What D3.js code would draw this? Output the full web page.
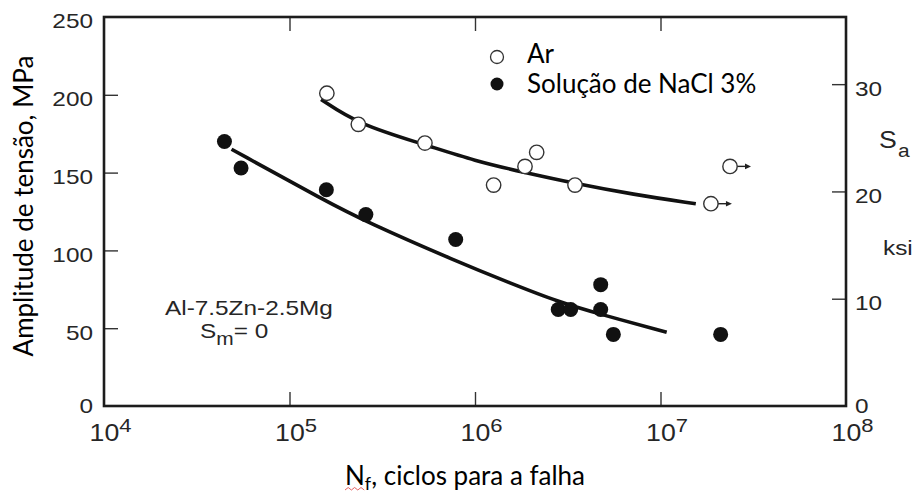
<!DOCTYPE html>
<html>
<head>
<meta charset="utf-8">
<script src="https://cdn.jsdelivr.net/npm/d3@7"></script>
<style>
  body { margin: 0; background: #fff; }
  svg { display: block; }
</style>
</head>
<body>
<svg id="chart" width="916" height="496"></svg>
<script>
// Axis tick values
const cycleTicks = [1e4, 1e5, 1e6, 1e7, 1e8];
const mpaTicks = [0, 50, 100, 150, 200, 250];
const ksiTicks = [0, 10, 20, 30];

// Air (Ar) tests: cycles to failure and stress amplitude (MPa)
const arCycles = [1.59e5, 2.35e5, 5.37e5, 1.26e6, 1.86e6, 2.15e6, 3.46e6, 1.87e7, 2.37e7];
const arStress = [201, 181, 169, 142, 154, 163, 142, 130, 154];
const arRunout = [false, false, false, false, false, false, false, true, true];

// 3% NaCl solution tests
const naclCycles = [4.46e4, 5.48e4, 1.58e5, 2.58e5, 7.87e5, 2.81e6, 3.28e6, 4.76e6, 4.76e6, 5.57e6, 2.11e7];
const naclStress = [170, 153, 139, 123, 107, 62, 62, 78, 62, 46, 46];

// Fitted S-N curves
const arFitCycles = [1.48e5, 2.35e5, 5.37e5, 1e6, 1.86e6, 3.47e6, 7.08e6, 1.55e7];
const arFitStress = [197, 181, 168, 157.5, 150, 143, 136, 130];
const naclFitCycles = [4.87e4, 1.58e5, 2.58e5, 7.94e5, 1.55e6, 2.81e6, 4.72e6, 1.08e7];
const naclFitStress = [165, 131.5, 118.5, 93, 79, 67, 59, 47.4];

const legendLabels = ["Ar", "Solução de NaCl 3%"];
const MPA_PER_KSI = 6.894757;

const svg = d3.select("#chart");
const box = { left: 104, top: 17, right: 846, bottom: 406 };
const SX = 1.16;                       // horizontal stretch of the Helvetica-style labels
const helv = "'Liberation Sans', Arial, Helvetica, sans-serif";
const calib = "Lato, 'Open Sans', sans-serif";

const x = d3.scaleLog().domain([1e4, 1e8]).range([box.left, box.right]);
const y = d3.scaleLinear().domain([0, 250]).range([box.bottom, box.top]);
const yKsi = d3.scaleLinear().domain([0, 250 / MPA_PER_KSI]).range([box.bottom, box.top]);

function styleTicks(g) {
  g.select(".domain").remove();
  g.selectAll(".tick line").attr("stroke", "#333").attr("stroke-width", 1.4);
  g.selectAll(".tick text")
    .attr("font-family", helv).attr("font-size", 21).attr("fill", "#262626");
}

// Left axis (MPa)
const gLeft = svg.append("g").attr("transform", `translate(${box.left},0)`)
  .call(d3.axisLeft(y).tickValues(mpaTicks).tickSize(-14).tickPadding(11));
styleTicks(gLeft);
gLeft.selectAll(".tick").filter(d => d === 0 || d === 250).select("line").remove();
gLeft.selectAll(".tick text")
  .attr("x", -11 / SX).attr("dy", d => d === 0 ? "0.3em" : "0.52em")
  .attr("transform", `scale(${SX},1)`);

// Right axis (ksi)
const gRight = svg.append("g").attr("transform", `translate(${box.right},0)`)
  .call(d3.axisRight(yKsi).tickValues(ksiTicks).tickSize(-14).tickPadding(9));
styleTicks(gRight);
gRight.selectAll(".tick").filter(d => d === 0).select("line").remove();
gRight.selectAll(".tick text")
  .attr("x", 9 / SX).attr("dy", d => d === 0 ? "0.3em" : "0.52em")
  .attr("transform", `scale(${SX},1)`);

// Bottom axis (cycles, log)
const gBottom = svg.append("g").attr("transform", `translate(0,${box.bottom})`)
  .call(d3.axisBottom(x).tickValues(cycleTicks).tickSize(-14).tickFormat(() => ""));
styleTicks(gBottom);
gBottom.selectAll(".tick").filter(d => d === 1e4 || d === 1e8).select("line").remove();
gBottom.selectAll(".tick text").each(function(d) {
  const t = d3.select(this)
    .attr("y", 35).attr("dy", null).attr("x", 6 / SX)
    .attr("font-size", 23).attr("text-anchor", "middle")
    .attr("transform", `scale(${SX},1)`);
  t.append("tspan").text("10");
  t.append("tspan").attr("font-size", 19).attr("dy", -9).text(Math.round(Math.log10(d)));
});

// Top axis (ticks only)
const gTop = svg.append("g").attr("transform", `translate(0,${box.top})`)
  .call(d3.axisTop(x).tickValues(cycleTicks.slice(1, -1)).tickSize(-14).tickFormat(() => ""));
styleTicks(gTop);

// Frame
svg.append("rect")
  .attr("x", box.left).attr("y", box.top)
  .attr("width", box.right - box.left).attr("height", box.bottom - box.top)
  .attr("fill", "none").attr("stroke", "#1c1c1c").attr("stroke-width", 2.6);

// Fitted curves
const line = d3.line().x(d => x(d[0])).y(d => y(d[1])).curve(d3.curveBasis);
[[arFitCycles, arFitStress], [naclFitCycles, naclFitStress]].forEach(([cs, ss]) => {
  svg.append("path")
    .datum(cs.map((c, i) => [c, ss[i]]))
    .attr("d", line)
    .attr("fill", "none").attr("stroke", "#111").attr("stroke-width", 3.6)
    .attr("stroke-linecap", "butt");
});

// Run-out arrows for air specimens
const arData = arCycles.map((c, i) => ({ c, s: arStress[i], runout: arRunout[i] }));
const runouts = svg.append("g").selectAll("g").data(arData.filter(d => d.runout)).join("g")
  .attr("transform", d => `translate(${x(d.c)},${y(d.s)})`);
runouts.append("line").attr("x1", 7).attr("x2", 17).attr("y1", 0).attr("y2", 0)
  .attr("stroke", "#222").attr("stroke-width", 1.4);
runouts.append("path").attr("d", "M15,-2.8L21,0L15,2.8Z").attr("fill", "#222");

// Data points
svg.append("g").selectAll("circle").data(arData).join("circle")
  .attr("cx", d => x(d.c)).attr("cy", d => y(d.s)).attr("r", 7.2)
  .attr("fill", "#fff").attr("stroke", "#333").attr("stroke-width", 1.4);
svg.append("g").selectAll("circle").data(naclCycles.map((c, i) => ({ c, s: naclStress[i] }))).join("circle")
  .attr("cx", d => x(d.c)).attr("cy", d => y(d.s)).attr("r", 7.5)
  .attr("fill", "#111");

// Legend
const legend = svg.append("g");
const legendRows = legend.selectAll("g").data(legendLabels).join("g")
  .attr("transform", (d, i) => `translate(497,${57 + i * 27})`);
legendRows.append("circle").attr("r", 6.5)
  .attr("fill", (d, i) => i === 0 ? "#fff" : "#111")
  .attr("stroke", "#333").attr("stroke-width", (d, i) => i === 0 ? 1.3 : 0);
legendRows.append("text").attr("x", 30).attr("y", (d, i) => i === 0 ? 6 : 8.5)
  .attr("font-family", calib).attr("font-size", 26).attr("fill", "#000")
  .text(d => d);

// Alloy annotation
svg.append("text").attr("transform", `translate(165,315) scale(${SX},1)`)
  .attr("font-family", helv).attr("font-size", 21).attr("fill", "#262626")
  .text("Al-7.5Zn-2.5Mg");
const sm = svg.append("text").attr("transform", `translate(200,338) scale(${SX},1)`)
  .attr("font-family", helv).attr("font-size", 21).attr("fill", "#262626");
sm.append("tspan").text("S");
sm.append("tspan").attr("font-size", 18).attr("dy", 7).text("m");
sm.append("tspan").attr("dy", -7).text("= 0");

// Right axis title
const sa = svg.append("text").attr("transform", `translate(879,148) scale(${SX},1)`)
  .attr("font-family", helv).attr("font-size", 23).attr("fill", "#262626");
sa.append("tspan").text("S");
sa.append("tspan").attr("font-size", 18).attr("dx", 1).attr("dy", 9).text("a");
svg.append("text").attr("transform", `translate(883,255) scale(${SX},1)`)
  .attr("font-family", helv).attr("font-size", 21).attr("fill", "#262626")
  .text("ksi");

// Left axis title
svg.append("text").attr("transform", "translate(33,206) rotate(-90)")
  .attr("text-anchor", "middle")
  .attr("font-family", calib).attr("font-size", 26).attr("fill", "#000")
  .text("Amplitude de tensão, MPa");

// Bottom axis title
const xt = svg.append("text").attr("x", 345).attr("y", 485)
  .attr("font-family", calib).attr("font-size", 26).attr("fill", "#000");
xt.append("tspan").text("N");
xt.append("tspan").attr("font-size", 18).attr("dy", 5).text("f");
xt.append("tspan").attr("dy", -5).text(", ciclos para a falha");
// spell-check squiggle under the symbol
svg.append("path")
  .attr("d", d3.range(0, 7).map(i => `${i === 0 ? "M" : "L"}${345 + i * 3.2},${i % 2 ? 487.5 : 490}`).join(""))
  .attr("fill", "none").attr("stroke", "#e05050").attr("stroke-width", 0.9);
</script>
</body>
</html>
